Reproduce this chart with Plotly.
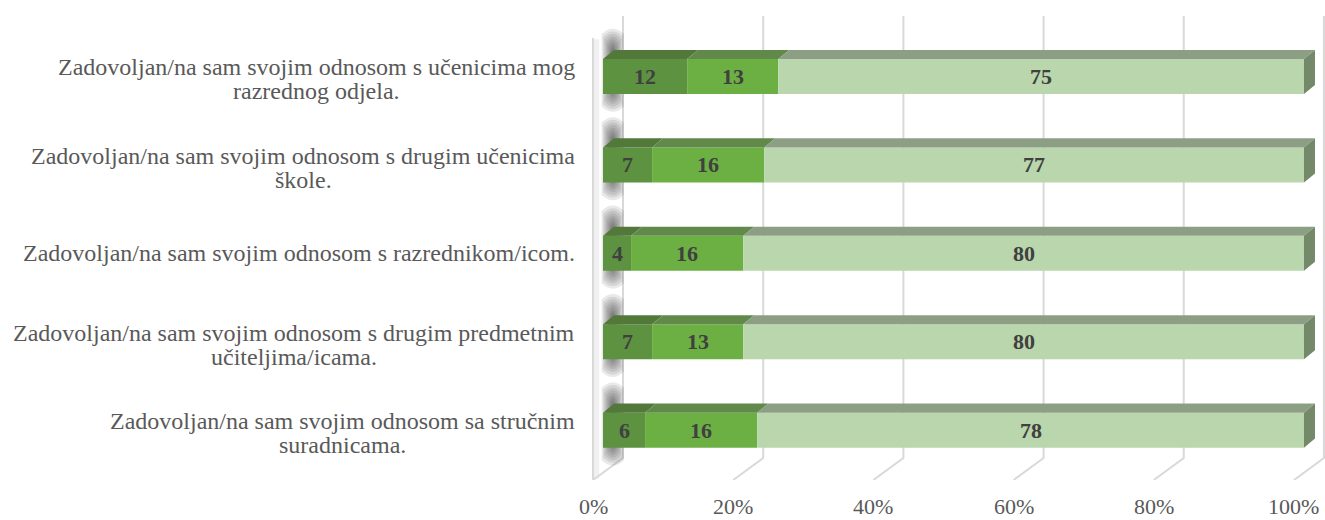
import plotly.graph_objects as go

categories = [
    ["Zadovoljan/na sam svojim odnosom s učenicima mog", "razrednog odjela."],
    ["Zadovoljan/na sam svojim odnosom s drugim učenicima", "škole."],
    ["Zadovoljan/na sam svojim odnosom s razrednikom/icom."],
    ["Zadovoljan/na sam svojim odnosom s drugim predmetnim", "učiteljima/icama."],
    ["Zadovoljan/na sam svojim odnosom sa stručnim", "suradnicama."],
]
series1 = [12, 7, 4, 7, 6]
series2 = [13, 16, 16, 13, 16]
series3 = [75, 77, 80, 80, 78]
tick_values = [0, 20, 40, 60, 80, 100]
tick_labels = ["0%", "20%", "40%", "60%", "80%", "100%"]

front_colors = ["#5d9241", "#6cb043", "#b9d6ad"]
top_colors = ["#52793a", "#61894a", "#8c9f85"]
side_color = "#74896a"
grid_color = "#d9d9d9"
SERIF = "Liberation Serif"

# Times-compatible advance widths (1/1000 em) used to centre wrapped label lines
TW = dict(zip("abcdefghijklmnopqrstuvwxyz", [444, 500, 444, 500, 444, 333, 500, 500, 278, 278, 500, 278, 778,
                                             500, 500, 500, 500, 333, 389, 278, 500, 500, 722, 500, 500, 444]))
TW.update({"Z": 611, " ": 250, "/": 278, ".": 250, "č": 444, "š": 389})


def text_width(s, size):
    return sum(TW.get(ch, 500) for ch in s) * size / 1000.0


BAR_W = 0.396
DX, DY = 1.57, -0.102          # depth offset of bar top face
BACK, FRONT = 2.85, -1.43      # wall offsets in x units
Y_TOP, Y_BACK_BOT, Y_BOT = -0.684, 4.316, 4.564
X_MIN, X_MAX = -2.0, 103.0
plot_left, plot_w = 589, 736
LABEL_SIZE = 24

ypos = list(range(len(categories)))
fig = go.Figure()

shapes = []
# left wall
shapes.append(dict(type="rect", xref="x", yref="y", x0=FRONT + 0.15, x1=FRONT + 0.9, y0=-0.42, y1=Y_BOT - 0.02,
                   fillcolor="#f0f0f0", line=dict(width=0), layer="below"))
shapes.append(dict(type="line", xref="x", yref="y", x0=FRONT, x1=FRONT, y0=-0.436, y1=Y_BOT,
                   line=dict(color=grid_color, width=2), layer="below"))
# back gridlines with floor diagonals
for v in tick_values:
    shapes.append(dict(type="path", xref="x", yref="y",
                       path=f"M {v + BACK},{Y_TOP} L {v + BACK},{Y_BACK_BOT} L {v + FRONT},{Y_BOT}",
                       line=dict(color=grid_color, width=2), layer="below"))
# wall shadows (soft, layered)
for c in ypos:
    cy = c - 0.07
    layers = [(1.6, 0.47), (1.4, 0.44), (1.2, 0.41), (1.0, 0.38), (0.8, 0.35), (0.6, 0.32), (0.45, 0.29), (0.3, 0.26)]
    for ex, ey in layers:
        cx = 1.4
        shapes.append(dict(type="path", xref="x", yref="y",
                           path=(f"M {cx - ex},{cy - ey + 0.06} Q {cx},{cy - ey - 0.06} {cx + ex},{cy - ey + 0.06} "
                                 f"L {cx + ex},{cy + ey - 0.06} Q {cx},{cy + ey + 0.06} {cx - ex},{cy + ey - 0.06} Z"),
                           fillcolor="#262626", opacity=0.1, line=dict(width=0), layer="below"))

series = [series1, series2, series3]
bases = [[0] * len(categories), list(series1), [a + b for a, b in zip(series1, series2)]]
annotations = []
for i, s in enumerate(series):
    fig.add_trace(go.Bar(
        y=ypos, x=s, base=bases[i], orientation="h", width=BAR_W,
        marker=dict(color=front_colors[i], line=dict(width=0)),
        showlegend=False, hoverinfo="skip",
    ))
    for c, b, v in zip(ypos, bases[i], s):
        yt = c - BAR_W / 2
        shapes.append(dict(type="path", xref="x", yref="y",
                           path=f"M {b},{yt} L {b + DX},{yt + DY} L {b + v + DX},{yt + DY} L {b + v},{yt} Z",
                           fillcolor=top_colors[i], line=dict(width=0)))
        annotations.append(dict(xref="x", yref="y", x=b + v / 2, y=c, text=f"<b>{v}</b>", showarrow=False,
                                xanchor="center", yanchor="middle",
                                font=dict(family=SERIF, size=22, color="#404040")))

# right side faces
for c, b, v in zip(ypos, bases[2], series3):
    e = b + v
    yt, yb = c - BAR_W / 2, c + BAR_W / 2
    shapes.append(dict(type="path", xref="x", yref="y",
                       path=f"M {e},{yt} L {e + DX},{yt + DY} L {e + DX},{yb + DY} L {e},{yb} Z",
                       fillcolor=side_color, line=dict(width=0)))

# category labels: each line centred on the block, block right edge at 575px
for c, lines in zip(ypos, categories):
    wmax = max(text_width(l, LABEL_SIZE) for l in lines)
    cx_px = 575 - wmax / 2
    shifts = [0] if len(lines) == 1 else [9, -15]
    for line, sh in zip(lines, shifts):
        annotations.append(dict(xref="paper", yref="y", x=(cx_px - plot_left) / plot_w, y=c, yshift=sh,
                                text=line, showarrow=False, xanchor="center", yanchor="middle",
                                font=dict(family=SERIF, size=LABEL_SIZE, color="#595959")))
for v, t in zip(tick_values, tick_labels):
    annotations.append(dict(xref="x", yref="paper", x=v + FRONT, y=0, yshift=-26, text=t,
                            showarrow=False, xanchor="center", yanchor="middle", borderpad=0,
                            font=dict(family=SERIF, size=22, color="#595959")))

fig.update_layout(
    width=1325, height=520,
    margin=dict(l=plot_left, r=0, t=16, b=40, autoexpand=False),
    paper_bgcolor="white", plot_bgcolor="white",
    barmode="overlay",
    xaxis=dict(range=[X_MIN, X_MAX], showgrid=False, zeroline=False, showticklabels=False,
               showline=False, fixedrange=True),
    yaxis=dict(range=[Y_BOT, Y_TOP], showgrid=False, zeroline=False, showticklabels=False,
               showline=False, fixedrange=True),
    shapes=shapes, annotations=annotations,
)

fig.write_html("out.html", config={"displayModeBar": False},
               post_script="document.body.style.margin='0';document.body.style.overflow='hidden';")
